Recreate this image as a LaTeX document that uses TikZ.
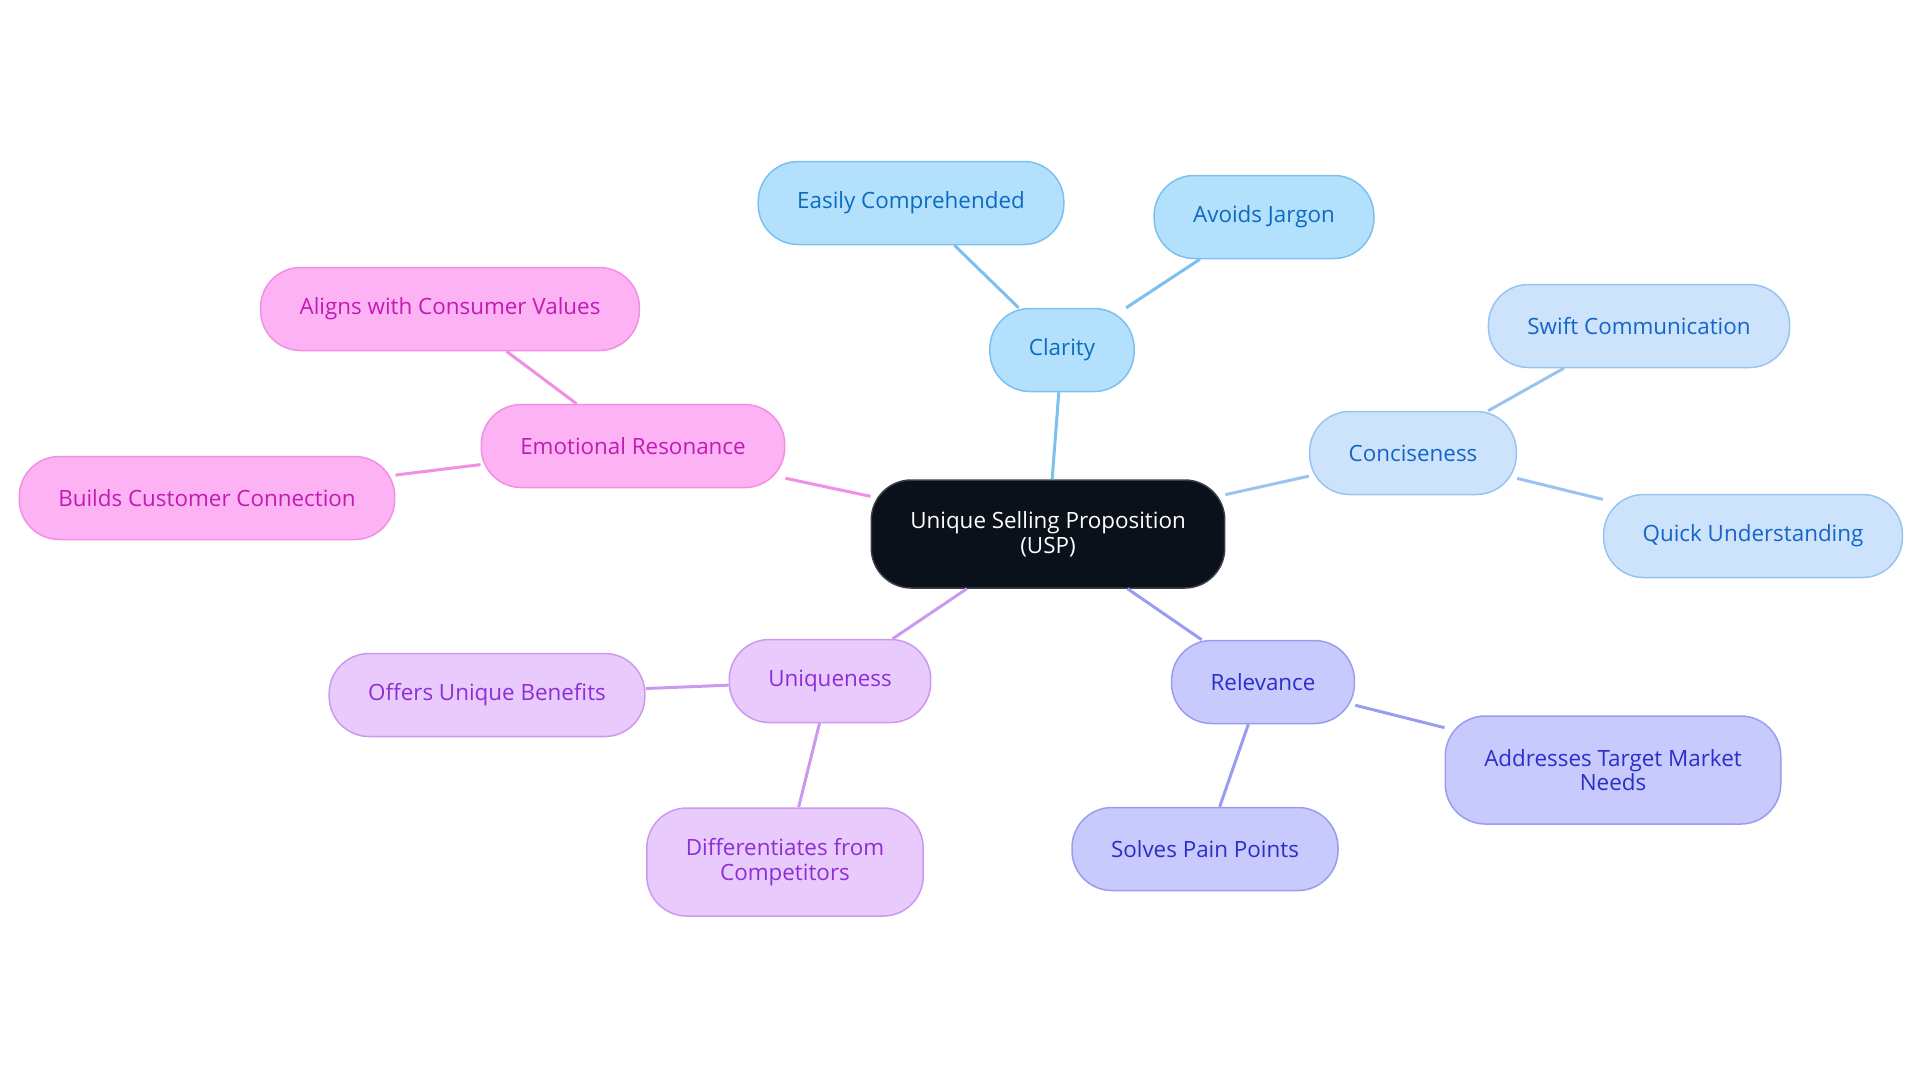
\documentclass[tikz,border=0pt]{standalone}
\usepackage{fontspec}
\setmainfont{Open Sans}
\usepackage{tikz}
\usetikzlibrary{positioning}
\definecolor{rootfill}{HTML}{0B111B}
\definecolor{rootline}{HTML}{3A3F47}
\definecolor{clarfill}{HTML}{B3E0FD}
\definecolor{clarline}{HTML}{7CC0F0}
\definecolor{clartext}{HTML}{0D6BBF}
\definecolor{concfill}{HTML}{CCE3FB}
\definecolor{concline}{HTML}{9AC4EF}
\definecolor{conctext}{HTML}{1565C9}
\definecolor{relefill}{HTML}{C8C9FC}
\definecolor{releline}{HTML}{9B9CF0}
\definecolor{reletext}{HTML}{2A2FC9}
\definecolor{uniqfill}{HTML}{E8CAFC}
\definecolor{uniqline}{HTML}{CC99EF}
\definecolor{uniqtext}{HTML}{8E2ED6}
\definecolor{emotfill}{HTML}{FDB3F3}
\definecolor{emotline}{HTML}{F08FE3}
\definecolor{emottext}{HTML}{C21AB5}
\tikzstyle{box}=[draw,line width=0.75pt,rounded corners=20pt,minimum height=41.5pt,inner xsep=19.5pt,align=center,font=\fontsize{11.2}{12.25}\selectfont]
\tikzstyle{twoline}=[minimum height=54pt]
\tikzstyle{root}=[box,twoline,fill=rootfill,draw=rootline,text=white]
\tikzstyle{clar}=[box,fill=clarfill,draw=clarline,text=clartext]
\tikzstyle{conc}=[box,fill=concfill,draw=concline,text=conctext]
\tikzstyle{rele}=[box,fill=relefill,draw=releline,text=reletext]
\tikzstyle{uniq}=[box,fill=uniqfill,draw=uniqline,text=uniqtext]
\tikzstyle{emot}=[box,fill=emotfill,draw=emotline,text=emottext]
\tikzstyle{link}=[line width=1.5pt]
\begin{document}
\begin{tikzpicture}[x=0.5pt,y=-0.5pt]
\useasboundingbox (0,0) rectangle (1920,1083);
\node [root] (usp) at (1048,534) {Unique Selling Proposition\\(USP)};
% clarity
\node [clar] (clarity) at (1062,350) {Clarity};
\node [clar] (easily) at (911,203) {Easily Comprehended};
\node [clar] (jargon) at (1264,217) {Avoids Jargon};
% conciseness
\node [conc] (concise) at (1413,453) {Conciseness};
\node [conc] (swift) at (1639,326) {Swift Communication};
\node [conc] (quick) at (1753,536) {Quick Understanding};
% relevance
\node [rele] (relevance) at (1263,682) {Relevance};
\node [rele,twoline] (target) at (1613,770) {Addresses Target Market\\Needs};
\node [rele] (pain) at (1205,849) {Solves Pain Points};
% uniqueness
\node [uniq] (unique) at (830,681) {Uniqueness};
\node [uniq] (benefits) at (487,695) {Offers Unique Benefits};
\node [uniq,twoline] (differ) at (785,862) {Differentiates from\\Competitors};
% emotional resonance
\node [emot] (emotion) at (633,446) {Emotional Resonance};
\node [emot] (values) at (450,309) {Aligns with Consumer Values};
\node [emot] (connect) at (207,498) {Builds Customer Connection};

\draw [link,clarline] (usp) -- (clarity);
\draw [link,clarline] (clarity) -- (easily);
\draw [link,clarline] (clarity) -- (jargon);
\draw [link,concline] (usp) -- (concise);
\draw [link,concline] (concise) -- (swift);
\draw [link,concline] (concise) -- (quick);
\draw [link,releline] (usp) -- (relevance);
\draw [link,releline] (relevance) -- (target);
\draw [link,releline] (relevance) -- (pain);
\draw [link,uniqline] (usp) -- (unique);
\draw [link,uniqline] (unique) -- (benefits);
\draw [link,uniqline] (unique) -- (differ);
\draw [link,emotline] (usp) -- (emotion);
\draw [link,emotline] (emotion) -- (values);
\draw [link,emotline] (emotion) -- (connect);
\end{tikzpicture}
\end{document}
